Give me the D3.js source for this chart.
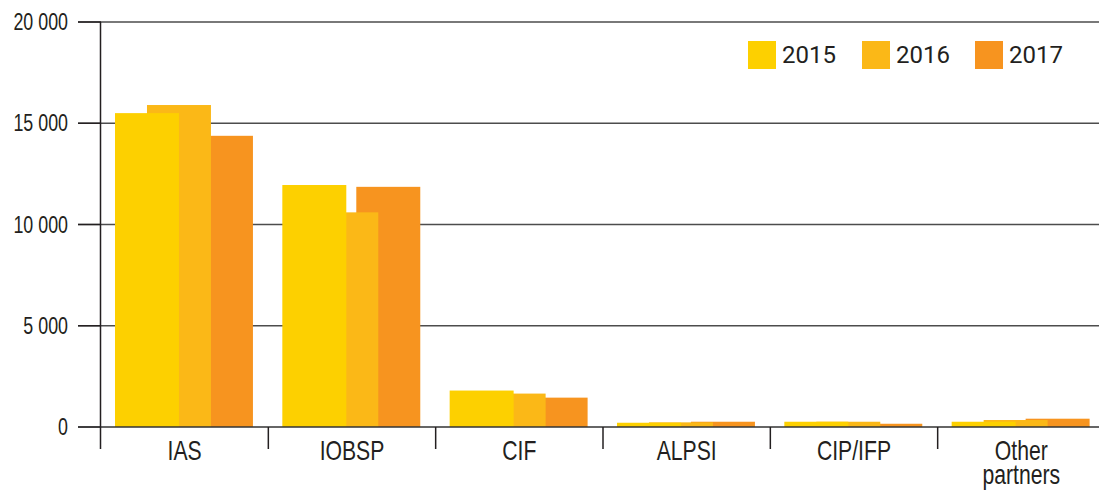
<!DOCTYPE html>
<html>
<head>
<meta charset="utf-8">
<script src="https://cdn.jsdelivr.net/npm/d3@7/dist/d3.min.js"></script>
<style>
  html, body { margin: 0; padding: 0; background: #fff; }
  svg { display: block; }
</style>
</head>
<body>
<svg id="chart" width="1099" height="490"></svg>
<script>
const categories = ["IAS", "IOBSP", "CIF", "ALPSI", "CIP/IFP", "Other partners"];
const years = ["2015", "2016", "2017"];
const values2015 = [15500, 11950, 1800, 210, 260, 260];
const values2016 = [15900, 10600, 1650, 230, 260, 345];
const values2017 = [14380, 11860, 1450, 260, 160, 410];
const yTicks = [0, 5000, 10000, 15000, 20000];
const yTickLabels = ["0", "5 000", "10 000", "15 000", "20 000"];
const colors = ["#FDD000", "#FBB817", "#F7941F"];

const series = [values2015, values2016, values2017];

const svg = d3.select("#chart");
const textColor = "#231f20";
const narrowFont = "'Liberation Sans', Arial, sans-serif";

const x = d3.scaleBand().domain(categories).range([101, 1105]).paddingInner(0).paddingOuter(0);
const y = d3.scaleLinear().domain([0, 20000]).range([427, 22]);
const bw = x.bandwidth();
// offset of each year's bar inside a category band (fraction of band), and bar width
const sub = d3.scaleOrdinal().domain(years).range([14 / 167.4, 46 / 167.4, 88 / 167.4]);
const barW = bw * 64 / 167.4;

// gridlines
svg.append("g").selectAll("line").data(yTicks.filter(d => d > 0)).join("line")
  .attr("x1", 78).attr("x2", 1099)
  .attr("y1", d => y(d)).attr("y2", d => y(d))
  .attr("stroke", "#4d4d4d").attr("stroke-width", 1.4);

// bars: draw 2017 first (back), then 2016, then 2015 (front)
const barG = svg.append("g");
[2, 1, 0].forEach(si => {
  barG.append("g").selectAll("rect").data(categories.map((c, i) => ({c, v: series[si][i]}))).join("rect")
    .attr("x", d => x(d.c) + sub(years[si]) * bw)
    .attr("width", barW)
    .attr("y", d => y(d.v))
    .attr("height", d => y(0) - y(d.v))
    .attr("fill", colors[si]);
});

// left ticks
svg.append("g").selectAll("line").data(yTicks).join("line")
  .attr("x1", 78).attr("x2", 101)
  .attr("y1", d => y(d)).attr("y2", d => y(d))
  .attr("stroke", "#231f20").attr("stroke-width", 1.4);

// baseline
svg.append("line").attr("x1", 78).attr("x2", 1099).attr("y1", y(0)).attr("y2", y(0))
  .attr("stroke", "#333").attr("stroke-width", 1.6);

// y axis line
svg.append("line").attr("x1", 100.5).attr("x2", 100.5).attr("y1", y(20000)).attr("y2", 449)
  .attr("stroke", "#231f20").attr("stroke-width", 1.5);

// category separators
svg.append("g").selectAll("line").data(categories.slice(1)).join("line")
  .attr("x1", d => x(d)).attr("x2", d => x(d))
  .attr("y1", y(0)).attr("y2", 449)
  .attr("stroke", "#231f20").attr("stroke-width", 1.5);

// y tick labels (condensed via horizontal scaling)
svg.append("g").selectAll("text").data(yTicks).join("text")
  .attr("transform", d => `translate(68,${y(d) + 8}) scale(0.76,1)`)
  .attr("text-anchor", "end")
  .attr("font-family", narrowFont).attr("font-size", 23.5)
  .attr("fill", textColor)
  .text((d, i) => yTickLabels[i]);

// category labels
const catG = svg.append("g");
categories.forEach(c => {
  const words = c === "Other partners" ? ["Other", "partners"] : [c];
  words.forEach((w, i) => {
    catG.append("text")
      .attr("transform", `translate(${x(c) + bw / 2},${459.5 + i * 24}) scale(0.77,1)`)
      .attr("text-anchor", "middle")
      .attr("font-family", narrowFont).attr("font-size", 27.5)
      .attr("fill", textColor)
      .text(w);
  });
});

// legend
const legendX = [748, 862, 975];
const lg = svg.append("g");
years.forEach((yr, i) => {
  lg.append("rect").attr("x", legendX[i]).attr("y", 41).attr("width", 28).attr("height", 28).attr("fill", colors[i]);
  lg.append("text").attr("x", legendX[i] + 34).attr("y", 63)
    .attr("font-family", "Roboto, 'Liberation Sans', sans-serif").attr("font-size", 24)
    .attr("fill", textColor).text(yr);
});
</script>
</body>
</html>
